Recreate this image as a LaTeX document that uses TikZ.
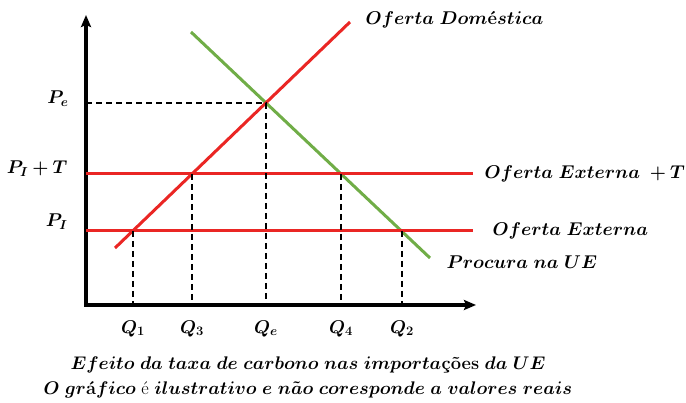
\RequirePackage{fix-cm}
\documentclass[tikz,border=0pt]{standalone}
\usepackage{amsmath}
\usepackage{bm}
\usepackage{tikz}
\usetikzlibrary{arrows.meta,positioning}
\definecolor{ofred}{RGB}{234,38,36}
\definecolor{pcgreen}{RGB}{112,173,71}
\tikzstyle{axis} = [line width=3.2pt,{Stealth[length=12pt,width=10pt,inset=2pt]}-{Stealth[length=12pt,width=10pt,inset=2pt]}]
\newcommand{\bmi}[1]{\ensuremath{\boldsymbol{#1}}}

\begin{document}
\begin{tikzpicture}[
    x=1pt, y=-1pt,
    font=\fontsize{18.5}{22}\selectfont,
    curve/.style={line width=3pt},
    guide/.style={line width=1.6pt, dash pattern=on 6pt off 4pt},
    plabel/.style={anchor=east},
    qlabel/.style={anchor=north},
    lbl/.style={anchor=west}
]
\useasboundingbox (0,0) rectangle (686,403);

% axes
\coordinate (ytop) at (86,15);
\coordinate (O) at (86,305);
\coordinate (xend) at (476,305);
\draw[axis] (ytop) -- (O) -- (xend);

% supply and demand
\coordinate (S1) at (115,248);
\coordinate (S2) at (350,22);
\coordinate (D1) at (191,32);
\coordinate (D2) at (430,258);
\draw[curve, pcgreen] (D1) -- (D2);

% world price lines
\coordinate (pit0) at (86,174);
\coordinate (pit1) at (473,174);
\coordinate (pi0) at (86,231);
\coordinate (pi1) at (473,231);
\draw[curve, ofred] (pit0) -- (pit1);
\draw[curve, ofred] (pi0) -- (pi1);
\draw[curve, ofred] (S1) -- (S2);

% intersections
\coordinate (E) at (266,102.9);
\coordinate (pe0) at (86,102.9);
\coordinate (A1) at (133,231);
\coordinate (A3) at (192,174);
\coordinate (A4) at (341,174);
\coordinate (A2) at (402,231);

\draw[guide] (pe0) -- (E) -- (E |- O);
\draw[guide] (A1) -- (A1 |- O);
\draw[guide] (A3) -- (A3 |- O);
\draw[guide] (A4) -- (A4 |- O);
\draw[guide] (A2) -- (A2 |- O);

% price labels
\node[plabel] (pe) at (72,99) {\bmi{P_e}};
\node[plabel] (pit) at (71,169) {\bmi{P_I+T}};
\node[plabel] (pi) at (71,222) {\bmi{P_I}};

% quantity labels
\node[qlabel] (q1) at ([yshift=-12pt]A1 |- O) {\bmi{Q_1}};
\node[qlabel] (q3) at ([yshift=-12pt]A3 |- O) {\bmi{Q_3}};
\node[qlabel] (qe) at ([yshift=-12pt]E |- O) {\bmi{Q_e}};
\node[qlabel] (q4) at ([yshift=-12pt]A4 |- O) {\bmi{Q_4}};
\node[qlabel] (q2) at ([yshift=-12pt]A2 |- O) {\bmi{Q_2}};

% curve labels
\node[lbl] (dom) at (362,20) {\bmi{Oferta\ Dom}\textbf{é}\bmi{stica}};
\node[lbl, right=8pt of pit1] (extt) {\bmi{Oferta\ Externa\ +T}};
\node[lbl, right=16pt of pi1] (ext) {\bmi{Oferta\ Externa}};
\node[lbl] (proc) at (443,262) {\bmi{Procura\ na\ UE}};

% caption
\node[align=center, font=\fontsize{18.3}{25}\selectfont] (cap) at (308,377)
  {\bmi{Efeito\ da\ taxa\ de\ carbono\ nas\ importa}\textbf{ções}\bmi{\ da\ UE}\\
   \bmi{O\ gr}\textbf{á}\bmi{fico}~é~\bmi{ilustrativo\ e\ n\tilde{a}o\ coresponde\ a\ valores\ reais}};
\end{tikzpicture}
\end{document}
